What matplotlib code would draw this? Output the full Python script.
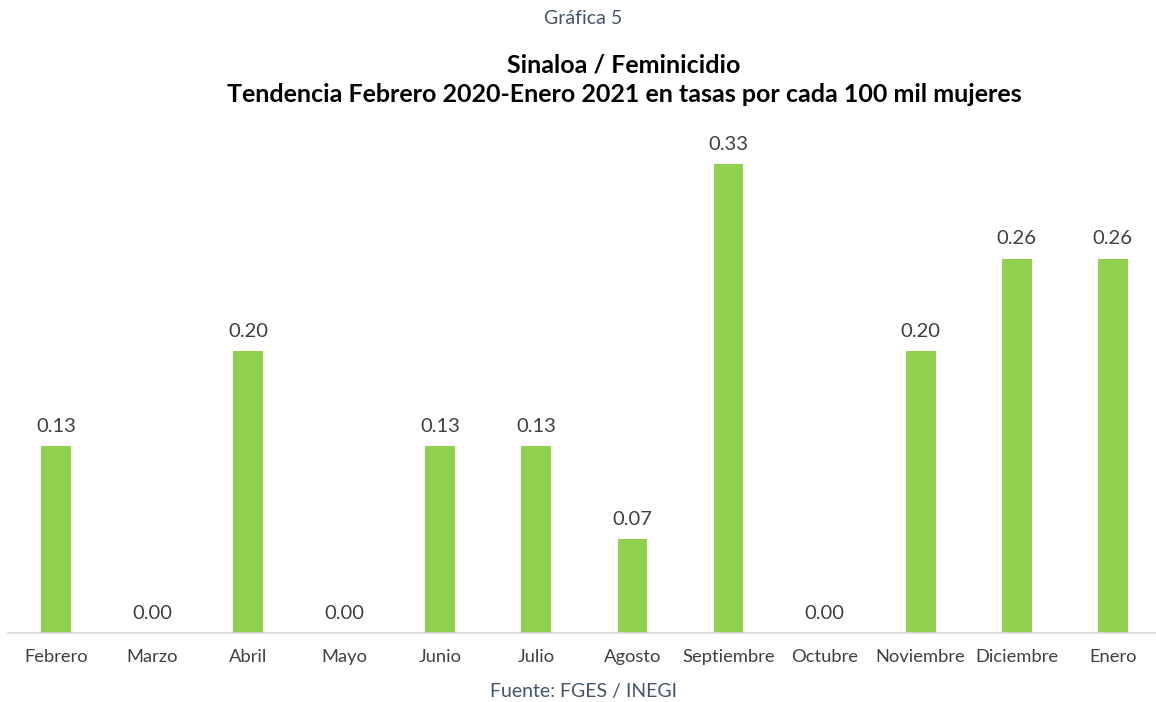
#!/usr/bin/env python

import matplotlib
matplotlib.use("Agg")
import matplotlib.pyplot as plt

# Data (rates per 100k women)
months = [
    "Febrero", "Marzo", "Abril", "Mayo", "Junio", "Julio",
    "Agosto", "Septiembre", "Octubre", "Noviembre", "Diciembre", "Enero",
]
rates = [0.131, 0.0, 0.197, 0.0, 0.131, 0.131,
         0.066, 0.328, 0.0, 0.197, 0.262, 0.262]

BAR_COLOR = "#92D050"
TEXT_DARK = "#404040"
TEXT_BLUE = "#44546A"

plt.rcParams["font.family"] = ["Lato", "DejaVu Sans"]

W, H = 1156, 702
fig = plt.figure(figsize=(W / 100, H / 100), dpi=100)
fig.patch.set_facecolor("white")

# axes placed in pixel coordinates: x 8..1156, y 130..633
ax = fig.add_axes([8 / W, (H - 633) / H, (1156 - 8) / W, (633 - 130) / H])
x = list(range(len(months)))
bars = ax.bar(x, rates, width=0.31, color=BAR_COLOR, zorder=2)

ax.set_xlim(-0.5, 11.45)
ax.set_ylim(0, 0.352)

for spine in ("top", "right", "left"):
    ax.spines[spine].set_visible(False)
ax.spines["bottom"].set_color("#D9D9D9")
ax.spines["bottom"].set_linewidth(1.2)

ax.set_yticks([])
ax.set_xticks(x)
ax.set_xticklabels(months, fontsize=13.2, color=TEXT_DARK)
ax.tick_params(axis="x", length=0, pad=11.5)

for rect, val in zip(bars, rates):
    ax.annotate(
        f"{val:.2f}",
        (rect.get_x() + rect.get_width() / 2, rect.get_height()),
        xytext=(0, 8),
        textcoords="offset points",
        ha="center",
        va="bottom",
        fontsize=14.5,
        color=TEXT_DARK,
    )

# Headings and source
fig.text(583 / W, 1 - 19 / H, "Gráfica 5", ha="center", va="center",
         fontsize=14, color=TEXT_BLUE)
fig.text(624 / W, 1 - 65 / H, "Sinaloa / Feminicidio", ha="center",
         va="center", fontsize=18, fontweight="bold", color="black")
fig.text(624 / W, 1 - 94 / H,
         "Tendencia Febrero 2020-Enero 2021 en tasas por cada 100 mil mujeres",
         ha="center", va="center", fontsize=18, fontweight="bold",
         color="black")
fig.text(583 / W, 1 - 692 / H, "Fuente: FGES / INEGI", ha="center",
         va="center", fontsize=14, color=TEXT_BLUE)

fig.savefig("out.png", dpi=100, facecolor="white")
